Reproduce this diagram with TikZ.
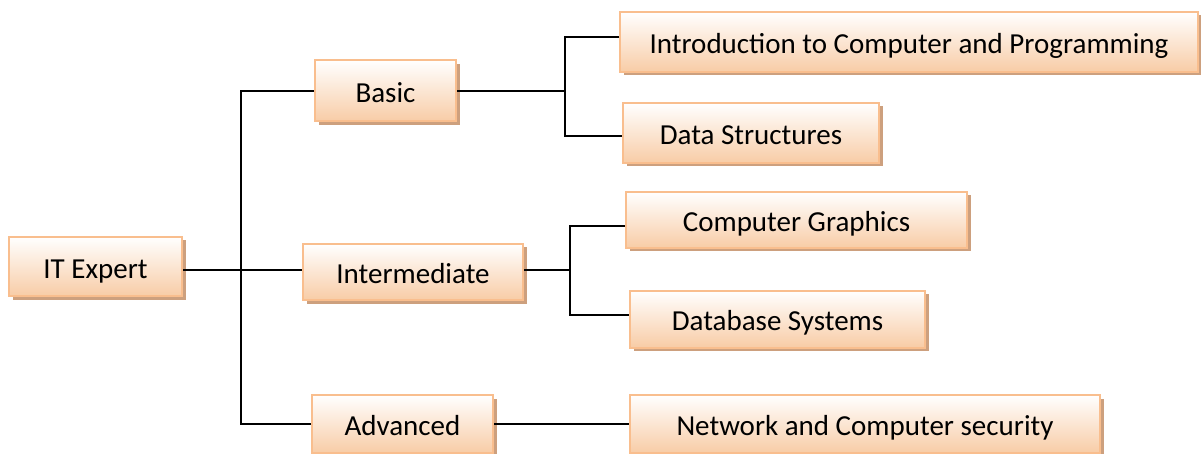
\documentclass[tikz,border=0pt]{standalone}
\usepackage{fontspec}
\setmainfont{Carlito}
\usetikzlibrary{positioning, shadows}

\definecolor{peachline}{HTML}{F9BE8E}
\definecolor{peachfill}{HTML}{F8CCA6}
\definecolor{peachshadow}{HTML}{CDA07E}

\begin{document}
\begin{tikzpicture}[x=1pt, y=-1pt, font=\fontsize{29}{34}\selectfont,
                    box/.style={rectangle, draw=peachline, line width=2pt, top color=white, bottom color=peachfill,
                                drop shadow={shadow xshift=3.5pt, shadow yshift=-3.5pt, fill=peachshadow, opacity=1},
                                inner sep=0pt, text height=29pt, text depth=6pt, anchor=center},
                    link/.style={draw=black, line width=1.7pt}]
                    \useasboundingbox (0,0) rectangle (1201,454);
                    % root and levels
                    \node[box, minimum width=173pt, minimum height=59pt](it) at (95.5,266.5) {IT Expert};
                    \node[box, minimum width=141pt, minimum height=61pt](bas) at (385.5,91) {Basic};
                    \node[box, minimum width=220pt, minimum height=56pt](int) at (413,272) {Intermediate};
                    \node[box, minimum width=181pt, minimum height=58pt](adv) at (402.5,424) {Advanced};

                    % courses
                    \node[box, minimum width=578pt, minimum height=60pt](intro) at (909,42) {Introduction to Computer and Programming};
                    \node[box, minimum width=256pt, minimum height=60pt](ds) at (751,133) {Data Structures};
                    \node[box, minimum width=341pt, minimum height=56pt](cg) at (796.5,220) {Computer Graphics};
                    \node[box, minimum width=295pt, minimum height=57pt](db) at (777.5,319) {Database Systems};
                    \node[box, minimum width=470pt, minimum height=58pt](net) at (865,424) {Network and Computer security};

                    % junctions
                    \coordinate(jt) at (241,270);
                    \coordinate(jb) at (565,91);
                    \coordinate(ji) at (570,270);

                    \draw[link] ([yshift=-3.5pt]it.east) -- ([yshift=2pt]int.west);
                    \draw[link] (bas.west) -| (jt) |- (adv.west);
                    \draw[link] (bas.east) -- (jb);
                    \draw[link] ([yshift=5pt]intro.west) -| (jb) |- ([yshift=-3pt]ds.west);
                    \draw[link] ([yshift=2pt]int.east) -- (ji);
                    \draw[link] ([yshift=-6pt]cg.west) -| (ji) |- ([yshift=4pt]db.west);
                    \draw[link] (adv.east) -- (net.west);
                \end{tikzpicture}
\end{document}
